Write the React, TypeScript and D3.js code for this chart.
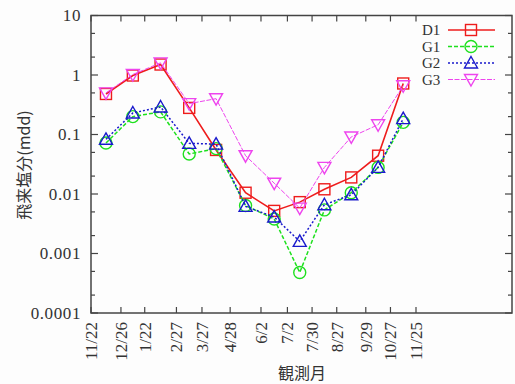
import React, { useEffect, useRef } from "react";
import * as d3 from "d3";

// observation period boundaries (tick labels)
const tickDates = [
  "2003-11-22", "2003-12-26", "2004-01-22", "2004-02-27", "2004-03-27",
  "2004-04-28", "2004-06-02", "2004-07-02", "2004-07-30", "2004-08-27",
  "2004-09-29", "2004-10-27", "2004-11-25"
];
const axisEnd = "2005-03-14";

const seriesNames = ["D1", "G1", "G2", "G3"];
const d1 = [0.48, 0.98, 1.5, 0.28, 0.055, 0.0105, 0.0052, 0.0073, 0.012, 0.019, 0.044, 0.72];
const g1 = [0.072, 0.2, 0.24, 0.047, 0.058, 0.0064, 0.0038, 0.00048, 0.0054, 0.0105, 0.028, 0.16];
const g2 = [0.083, 0.23, 0.29, 0.071, 0.069, 0.0062, 0.0041, 0.0016, 0.0066, 0.0097, 0.028, 0.185];
const g3 = [0.5, 1.02, 1.6, 0.33, 0.4, 0.044, 0.0152, 0.0058, 0.028, 0.091, 0.146, 0.66];

const yTickValues = [0.0001, 0.001, 0.01, 0.1, 1, 10];
const yTickLabels = ["0.0001", "0.001", "0.01", "0.1", "1", "10"];

const styles = [
  { color: "#ee1c1c", dash: null, width: 1.6, marker: "square" },
  { color: "#1ee01e", dash: "4,2", width: 1.5, marker: "circle" },
  { color: "#1a1acc", dash: "2,2", width: 1.5, marker: "up" },
  { color: "#ee44ee", dash: "5,1.5", width: 1, marker: "down" }
];

const serif = "Liberation Serif, Times New Roman, DejaVu Serif, serif";
const cjk = "Noto Sans CJK JP, sans-serif";

export default function App() {
  const ref = useRef<SVGSVGElement>(null);

  useEffect(() => {
    const width = 515;
    const height = 384;
    const m = { left: 91, top: 15.5, right: 512, bottom: 313 };
    const parse = d3.timeParse("%Y-%m-%d");
    const ticks = tickDates.map(d => parse(d) as Date);

    const x = d3
      .scaleTime()
      .domain([ticks[0], parse(axisEnd) as Date])
      .range([m.left, m.right]);
    const y = d3.scaleLog().domain([0.0001, 10]).range([m.bottom, m.top]);

    // points sit in the middle of each observation period
    const mids = ticks.slice(0, -1).map((t, i) => new Date((+t + +ticks[i + 1]) / 2));

    const svg = d3.select(ref.current);
    svg.selectAll("*").remove();
    svg.append("rect").attr("width", width).attr("height", height).attr("fill", "#fdfdfd");

    const frame = "#444";

    // minor y ticks 2 and 5
    const minor: number[] = [];
    yTickValues.slice(0, -1).forEach(v => minor.push(v * 2, v * 5));

    const tg = svg.append("g").attr("stroke", frame).attr("stroke-width", 1.2);
    yTickValues.forEach(v => {
      tg.append("line").attr("x1", m.left).attr("x2", m.left + 7).attr("y1", y(v)).attr("y2", y(v));
      tg.append("line").attr("x1", m.right).attr("x2", m.right - 7).attr("y1", y(v)).attr("y2", y(v));
    });
    minor.forEach(v => {
      tg.append("line").attr("x1", m.left).attr("x2", m.left + 4).attr("y1", y(v)).attr("y2", y(v));
      tg.append("line").attr("x1", m.right).attr("x2", m.right - 4).attr("y1", y(v)).attr("y2", y(v));
    });
    ticks.forEach(t => {
      tg.append("line").attr("x1", x(t)).attr("x2", x(t)).attr("y1", m.bottom).attr("y2", m.bottom - 6);
      tg.append("line").attr("x1", x(t)).attr("x2", x(t)).attr("y1", m.top).attr("y2", m.top + 6);
    });

    svg
      .append("rect")
      .attr("x", m.left)
      .attr("y", m.top)
      .attr("width", m.right - m.left)
      .attr("height", m.bottom - m.top)
      .attr("fill", "none")
      .attr("stroke", frame)
      .attr("stroke-width", 1.5);

    // y tick labels
    svg
      .append("g")
      .selectAll("text")
      .data(yTickValues)
      .join("text")
      .attr("font-family", serif)
      .attr("font-size", 17)
      .attr("letter-spacing", 0.6)
      .attr("fill", "#333")
      .attr("text-anchor", "end")
      .attr("x", m.left - 10)
      .attr("y", d => y(d))
      .attr("dy", "0.35em")
      .text((d, i) => yTickLabels[i]);

    // x tick labels, rotated
    svg
      .append("g")
      .selectAll("text")
      .data(ticks)
      .join("text")
      .attr("font-family", serif)
      .attr("font-size", 17)
      .attr("fill", "#333")
      .attr("text-anchor", "end")
      .attr("transform", d => `translate(${x(d)},${m.bottom + 9}) rotate(-90)`)
      .attr("dy", "0.35em")
      .text(d => d3.timeFormat("%-m/%-d")(d));

    // axis titles
    svg
      .append("text")
      .attr("x", 302)
      .attr("y", 379)
      .attr("text-anchor", "middle")
      .attr("font-family", cjk)
      .attr("font-size", 16)
      .attr("fill", "#333")
      .text("観測月");
    svg
      .append("text")
      .attr("transform", "translate(24,165) rotate(-90)")
      .attr("dy", "0.35em")
      .attr("text-anchor", "middle")
      .attr("font-family", cjk)
      .attr("font-size", 16)
      .attr("fill", "#333")
      .text("飛来塩分(mdd)");

    const drawMarker = (g: any, kind: string, color: string, cx: number, cy: number) => {
      const s = g.append("g").attr("transform", `translate(${cx},${cy})`);
      const common = (el: any) => el.attr("fill", "none").attr("stroke", color).attr("stroke-width", 1.4);
      if (kind === "square") common(s.append("rect").attr("x", -5.5).attr("y", -5.5).attr("width", 11).attr("height", 11));
      else if (kind === "circle") common(s.append("circle").attr("r", 6));
      else if (kind === "up") common(s.append("path").attr("d", "M0,-6.5L6.5,5L-6.5,5Z"));
      else common(s.append("path").attr("d", "M0,6.5L6.5,-5L-6.5,-5Z"));
    };

    const line = d3
      .line<number>()
      .x((d, i) => x(mids[i]))
      .y(d => y(d));

    const all = [d1, g1, g2, g3];
    all.forEach((vals, k) => {
      const st = styles[k];
      const g = svg.append("g");
      g.append("path")
        .attr("d", line(vals))
        .attr("fill", "none")
        .attr("stroke", st.color)
        .attr("stroke-width", st.width)
        .attr("stroke-dasharray", st.dash);
      vals.forEach((v, i) => drawMarker(g, st.marker, st.color, x(mids[i]), y(v)));
    });

    // legend
    const lg = svg.append("g");
    seriesNames.forEach((name, k) => {
      const st = styles[k];
      const ly = 30 + k * 16.5;
      lg.append("text")
        .attr("x", 422)
        .attr("y", ly)
        .attr("dy", "0.35em")
        .attr("font-family", serif)
        .attr("font-size", 15)
        .attr("fill", "#333")
        .text(name);
      lg.append("line")
        .attr("x1", 448)
        .attr("x2", 495)
        .attr("y1", ly)
        .attr("y2", ly)
        .attr("stroke", st.color)
        .attr("stroke-width", st.width)
        .attr("stroke-dasharray", st.dash);
      drawMarker(lg, st.marker, st.color, 471, ly);
    });
  }, []);

  return (
    <svg
      ref={ref}
      width={515}
      height={384}
      style={{ position: "absolute", left: 0, top: 0 }}
    />
  );
}
